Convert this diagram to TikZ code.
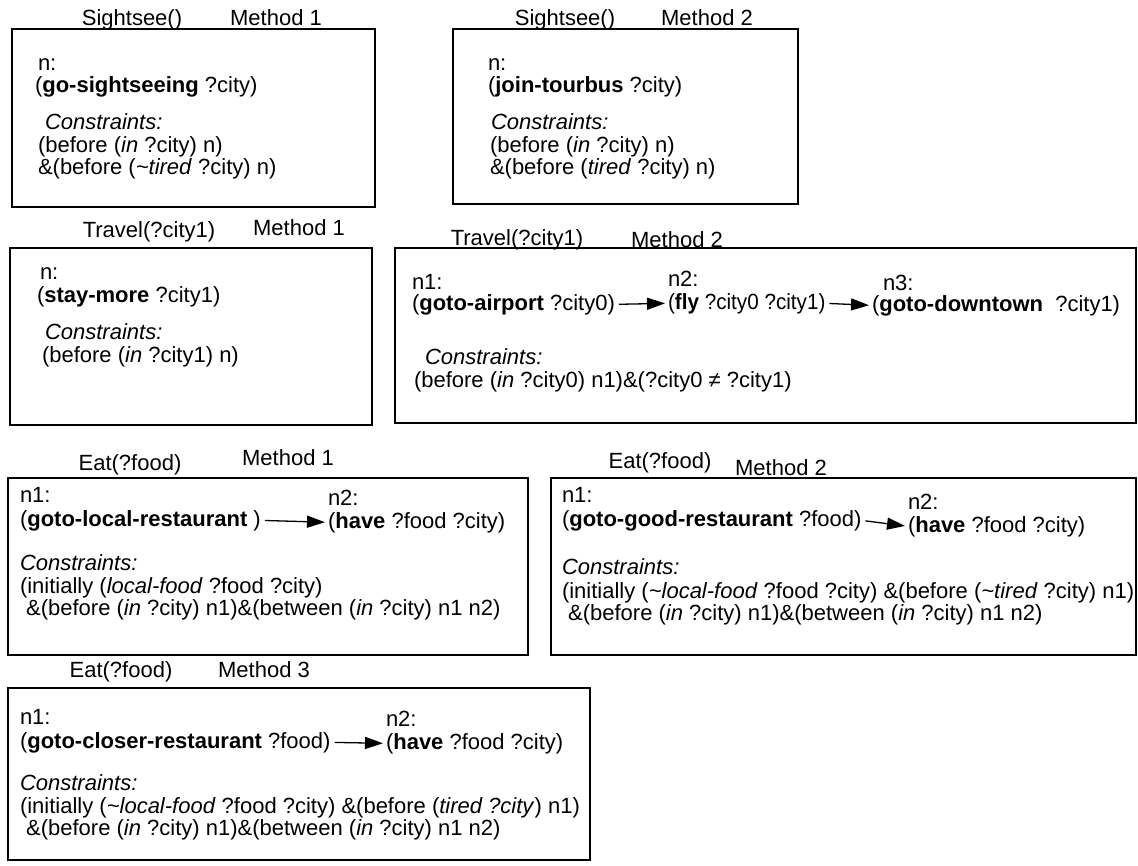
\documentclass[tikz,border=0pt]{standalone}
\usepackage{fontspec}
\setmainfont{Liberation Sans}
\usetikzlibrary{arrows.meta}
\begin{document}
\begin{tikzpicture}[x=1pt,y=-1pt,
  font=\fontsize{22}{24}\selectfont,
  box/.style={draw, line width=1.3pt},
  txt/.style={anchor=base west, inner sep=0pt, outer sep=0pt},
  lbl/.style={anchor=base, inner sep=0pt},
  seq/.style={-{Triangle[length=18pt,width=12pt]}, line width=1.3pt, shorten <=4pt, shorten >=3pt}]
\useasboundingbox (0,0) rectangle (1138,865);
% ---------- Sightsee Method 1
\node[lbl] (s1t) at (132,25) {Sightsee()};
\node[lbl] (s1m) at (276,25) {Method 1};
\draw[box] (12,29) rectangle (375,207);
\node[txt] (s1n) at (38,70) {n:};
\node[txt] (s1a) at (35,92) {(\textbf{go-sightseeing} ?city)};
\node[txt] (s1c) at (45,129) {\textit{Constraints:}};
\node[txt] (s1c1) at (38,152) {(before (\textit{in} ?city) n)};
\node[txt] (s1c2) at (38,174) {\&(before (\textit{\textasciitilde tired} ?city) n)};
% ---------- Sightsee Method 2
\node[lbl] (s2t) at (565,25) {Sightsee()};
\node[lbl] (s2m) at (707,25) {Method 2};
\draw[box] (453,29) rectangle (798,204);
\node[txt] (s2n) at (488,70) {n:};
\node[txt] (s2a) at (488,92) {(\textbf{join-tourbus} ?city)};
\node[txt] (s2c) at (491,129) {\textit{Constraints:}};
\node[txt] (s2c1) at (490,152) {(before (\textit{in} ?city) n)};
\node[txt] (s2c2) at (490,174) {\&(before (\textit{tired} ?city) n)};
% ---------- Travel Method 1
\node[lbl] (t1t) at (149,237) {Travel(?city1)};
\node[lbl] (t1m) at (299,235) {Method 1};
\draw[box] (10,248) rectangle (372,425);
\node[txt] (t1n) at (40,279) {n:};
\node[txt] (t1a) at (37,302) {(\textbf{stay-more} ?city1)};
\node[txt] (t1c) at (45,339) {\textit{Constraints:}};
\node[txt] (t1c1) at (42,362) {(before (\textit{in} ?city1) n)};
% ---------- Travel Method 2
\node[lbl] (t2t) at (517,245) {Travel(?city1)};
\node[lbl] (t2m) at (677,247) {Method 2};
\draw[box] (395,248) rectangle (1136,423);
\node[txt] (t2n1) at (412,289) {n1:};
\node[txt] (ga) at (412,310) {(\textbf{goto-airport} ?city0)};
\node[txt] (t2n2) at (668,286) {n2:};
\node[txt] (fly) at (668,309) {\scalebox{0.94}[1]{(\textbf{fly} ?city0 ?city1)}};
\node[txt] (t2n3) at (883,290) {n3:};
\node[txt] (gd) at (872,311) {(\textbf{goto-downtown}\ \ ?city1)};
\draw[seq] (ga.east) -- (fly.west);
\draw[seq] (fly.east) -- (gd.west);
\node[txt] (t2c) at (425,364) {\textit{Constraints:}};
\node[txt] (t2c1) at (414,387) {(before (\textit{in} ?city0) n1)\&(?city0 ≠ ?city1)};
% ---------- Eat Method 1
\node[lbl] (e1t) at (130,470) {Eat(?food)};
\node[lbl] (e1m) at (288,465) {Method 1};
\draw[box] (8,478) rectangle (528,655);
\node[txt] (e1n1) at (20,502) {n1:};
\node[txt] (gl) at (20,526) {(\textbf{goto-local-restaurant} )};
\node[txt] (e1n2) at (328,505) {n2:};
\node[txt] (h1) at (328,528) {(\textbf{have} ?food ?city)};
\draw[seq] (gl.east) -- (h1.west);
\node[txt] (e1c) at (20,570) {\textit{Constraints:}};
\node[txt] (e1c1) at (20,593) {(initially (\textit{local-food} ?food ?city)};
\node[txt] (e1c2) at (20,615) {\ \&(before (\textit{in} ?city) n1)\&(between (\textit{in} ?city) n1 n2)};
% ---------- Eat Method 2
\node[lbl] (e2t) at (660,468) {Eat(?food)};
\node[lbl] (e2m) at (781,475) {Method 2};
\draw[box] (551,478) rectangle (1136,655);
\node[txt] (e2n1) at (562,502) {n1:};
\node[txt] (gg) at (562,526) {(\textbf{goto-good-restaurant} ?food)};
\node[txt] (e2n2) at (908,509) {n2:};
\node[txt] (h2) at (908,532) {(\textbf{have} ?food ?city)};
\draw[seq] (gg.east) -- (h2.west);
\node[txt] (e2c) at (562,574) {\textit{Constraints:}};
\node[txt] (e2c1) at (562,598) {(initially (\textit{\textasciitilde local-food} ?food ?city) \&(before (\textit{\textasciitilde tired} ?city) n1)};
\node[txt] (e2c2) at (562,620) {\ \&(before (\textit{in} ?city) n1)\&(between (\textit{in} ?city) n1 n2)};
% ---------- Eat Method 3
\node[lbl] (e3t) at (121,677) {Eat(?food)};
\node[lbl] (e3m) at (264,677) {Method 3};
\draw[box] (8,688) rectangle (590,860);
\node[txt] (e3n1) at (20,724) {n1:};
\node[txt] (gc) at (20,748) {(\textbf{goto-closer-restaurant} ?food)};
\node[txt] (e3n2) at (386,726) {n2:};
\node[txt] (h3) at (386,749) {(\textbf{have} ?food ?city)};
\draw[seq] (gc.east) -- (h3.west);
\node[txt] (e3c) at (20,790) {\textit{Constraints:}};
\node[txt] (e3c1) at (20,813) {(initially (\textit{\textasciitilde local-food} ?food ?city) \&(before (\textit{tired ?city}) n1)};
\node[txt] (e3c2) at (20,835) {\ \&(before (\textit{in} ?city) n1)\&(between (\textit{in} ?city) n1 n2)};
\end{tikzpicture}
\end{document}
